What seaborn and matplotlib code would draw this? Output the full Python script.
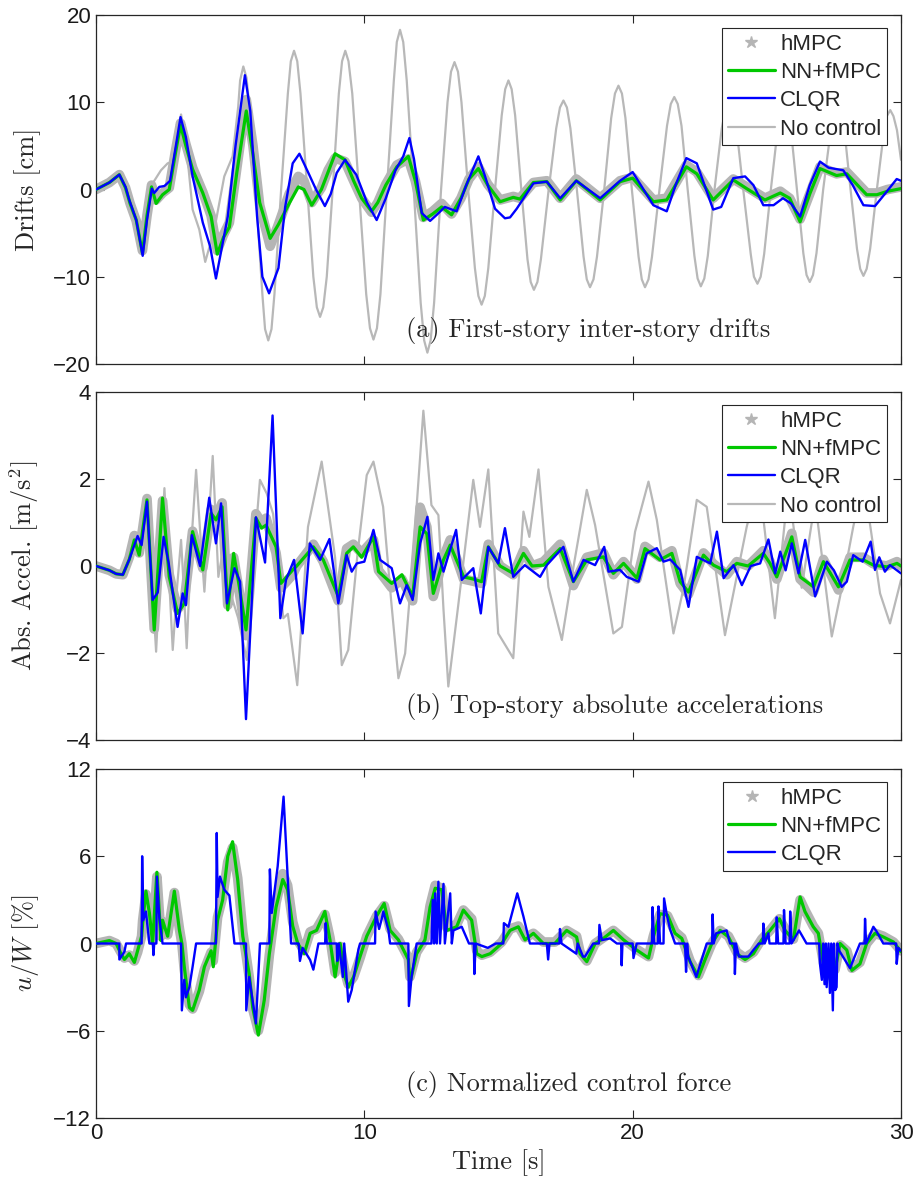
"""
Structural control comparison: drifts, accelerations and control force.
"""

import matplotlib
matplotlib.use('Agg')

import matplotlib.pyplot as plt
from matplotlib.lines import Line2D
import seaborn as sns

sns.set_style('ticks')
plt.rcParams['font.family'] = ['Liberation Sans', 'DejaVu Sans']
plt.rcParams['mathtext.fontset'] = 'cm'
plt.rcParams['axes.unicode_minus'] = True

# ---- (a) first-story inter-story drifts [cm] : (time, value) ----
a_nocontrol = [(0, 0), (0.5, 0.9), (0.87, 1.7), (1.24, -1.0), (1.74, -6.9), (2.05, 0.0), (2.11, 0.7),
               (2.42, 2.2), (2.67, 3.0), (2.86, 3.2), (3.17, 8.6), (3.35, 5.5), (3.6, -2.3), (3.85, -4.6),
               (4.07, -8.3), (4.41, -4.6), (4.78, 1.5), (5.09, 3.8), (5.3, 9.5), (5.37, 12.5), (5.49, 14.1),
               (5.61, 12.8), (5.7, 10.0), (5.95, 0.0), (6.2, -12.0), (6.3, -16.0), (6.42, -17.3),
               (6.54, -16.0), (6.65, -12.0), (6.9, 0.0), (7.15, 11.0), (7.26, 14.7), (7.38, 15.9),
               (7.5, 14.7), (7.62, 11.0), (7.87, 0.0), (8.1, -10.0), (8.23, -13.5), (8.35, -14.6),
               (8.47, -13.5), (8.6, -10.0), (8.82, 0.0), (9.05, 11.0), (9.17, 14.7), (9.29, 15.9),
               (9.41, 14.7), (9.55, 11.0), (9.8, 0.0), (10.07, -12.0), (10.21, -15.9), (10.34, -17.2),
               (10.47, -15.9), (10.6, -12.0), (10.84, 0.0), (11.1, 12.5), (11.21, 16.9), (11.33, 18.3),
               (11.45, 16.9), (11.58, 12.5), (11.84, 0.0), (12.1, -13.0), (12.23, -17.3), (12.35, -18.7),
               (12.47, -17.3), (12.6, -13.0), (12.86, 0.0), (13.1, 10.0), (13.23, 13.5), (13.36, 14.6),
               (13.49, 13.5), (13.62, 10.0), (13.87, 0.0), (14.12, -9.0), (14.25, -12.2), (14.37, -13.2),
               (14.49, -12.2), (14.62, -9.0), (14.87, 0.0), (15.12, 8.5), (15.25, 11.5), (15.37, 12.5),
               (15.49, 11.5), (15.62, 8.5), (15.85, 0.0), (16.08, -8.0), (16.2, -10.6), (16.32, -11.5),
               (16.45, -10.6), (16.58, -8.0), (16.87, 0.0), (17.15, 7.0), (17.29, 9.4), (17.42, 10.2),
               (17.55, 9.4), (17.68, 7.0), (17.92, 0.0), (18.17, -7.7), (18.29, -10.3), (18.41, -11.2),
               (18.54, -10.3), (18.67, -7.7), (18.94, 0.0), (19.2, 8.2), (19.34, 11.0), (19.47, 11.9),
               (19.6, 11.0), (19.73, 8.2), (19.97, 0.0), (20.22, -7.7), (20.34, -10.3), (20.46, -11.2),
               (20.59, -10.3), (20.72, -7.7), (21.0, 0.0), (21.28, 7.3), (21.42, 9.8), (21.55, 10.6),
               (21.68, 9.8), (21.82, 7.3), (22.05, 0.0), (22.3, -7.6), (22.42, -10.2), (22.54, -11.1),
               (22.67, -10.2), (22.8, -7.6), (23.05, 0.0), (23.32, 7.0), (23.46, 9.2), (23.6, 10.0),
               (23.73, 9.2), (23.87, 7.0), (24.12, 0.0), (24.4, -7.4), (24.52, -10.0), (24.65, -10.8),
               (24.77, -10.0), (24.9, -7.4), (25.15, 0.0), (25.4, 6.8), (25.52, 9.0), (25.65, 9.8),
               (25.77, 9.0), (25.9, 6.8), (26.12, 0.0), (26.36, -7.3), (26.48, -9.8), (26.6, -10.6),
               (26.72, -9.8), (26.85, -7.3), (27.1, 0.0), (27.37, 6.5), (27.5, 8.7), (27.63, 9.4),
               (27.76, 8.7), (27.9, 6.5), (28.12, 0.0), (28.36, -6.8), (28.48, -9.1), (28.6, -9.9),
               (28.72, -9.1), (28.85, -6.8), (29.1, 0.0), (29.35, 6.3), (29.47, 8.4), (29.6, 9.1),
               (29.72, 8.4), (29.85, 6.8), (30.0, 3.4)]

a_hmpc = [(0, 0), (0.5, 0.8), (0.87, 1.7), (1.1, 0.2), (1.27, -1.6), (1.5, -3.6), (1.73, -7.0), (1.9, -3.0),
          (2.07, 0.5), (2.24, -1.2), (2.48, -0.4), (2.73, 0.2), (2.95, 4.2), (3.15, 7.6), (3.35, 5.2),
          (3.6, 2.5), (3.98, -0.3), (4.29, -3.0), (4.52, -7.0), (4.75, -5.2), (4.97, -3.8), (5.25, 2.5),
          (5.6, 10.3), (5.85, 5.0), (6.1, -1.8), (6.49, -6.5), (6.8, -4.0), (7.2, -0.5), (7.54, 1.5),
          (7.75, 1.0), (8.04, -1.5), (8.4, 0.2), (8.65, 2.2), (8.91, 3.6), (9.28, 3.2), (9.6, 1.0),
          (9.9, -1.0), (10.27, -2.6), (10.5, -1.5), (10.8, 0.6), (11.21, 2.8), (11.64, 3.5), (11.9, 1.0),
          (12.2, -3.2), (12.55, -2.5), (12.88, -1.6), (13.25, -2.8), (13.6, -1.0), (13.9, 1.2),
          (14.25, 2.6), (14.6, 0.6), (15.06, -1.2), (15.55, -0.8), (15.8, -1.0), (16.3, 0.8), (16.8, 1.0),
          (17.3, -1.0), (17.9, 1.2), (18.79, -1.0), (19.53, 1.0), (20.0, 1.4), (20.77, -1.2),
          (21.27, -1.0), (22.0, 2.8), (22.39, 2.0), (23.0, -1.0), (23.75, 1.2), (24.25, 0.3),
          (24.93, -1.0), (25.5, -0.2), (25.85, -1.0), (26.24, -3.4), (26.6, -0.5), (26.98, 2.6),
          (27.6, 1.8), (27.98, 2.0), (28.72, -0.4), (29.1, -0.4), (29.5, 0.0), (30, 0.3)]

a_nnfmpc = [(0, 0), (0.5, 0.8), (0.87, 1.7), (1.1, 0.2), (1.27, -1.6), (1.5, -3.5), (1.73, -7.3), (1.9, -3.0),
            (2.07, 0.3), (2.24, -1.6), (2.48, -0.6), (2.73, 0.0), (2.95, 4.0), (3.15, 7.4), (3.35, 5.0),
            (3.6, 2.3), (3.98, -0.4), (4.29, -3.1), (4.52, -7.4), (4.75, -5.5), (4.97, -4.3), (5.25, 2.0),
            (5.6, 9.0), (5.85, 4.0), (6.1, -1.5), (6.49, -5.6), (6.8, -4.0), (7.2, -1.6), (7.54, 0.3),
            (7.75, 0.0), (8.04, -1.8), (8.4, 0.0), (8.65, 2.0), (8.91, 4.1), (9.28, 3.4), (9.6, 1.0),
            (9.9, -1.0), (10.27, -2.5), (10.5, -1.5), (10.8, 0.5), (11.21, 2.6), (11.64, 3.8), (11.9, 1.0),
            (12.2, -3.5), (12.55, -2.8), (12.88, -2.0), (13.25, -2.9), (13.6, -1.0), (13.9, 1.2),
            (14.25, 2.4), (14.6, 0.5), (15.06, -1.4), (15.55, -0.9), (15.8, -1.1), (16.3, 0.8), (16.8, 0.9),
            (17.3, -1.2), (17.9, 1.0), (18.79, -1.2), (19.53, 0.9), (20.0, 1.3), (20.77, -1.4),
            (21.27, -1.2), (22.0, 2.6), (22.39, 1.8), (23.0, -1.2), (23.75, 1.1), (24.25, 0.1),
            (24.93, -1.2), (25.5, -0.4), (25.85, -1.0), (26.24, -3.7), (26.6, -0.5), (26.98, 2.4),
            (27.6, 1.6), (27.98, 1.8), (28.72, -0.6), (29.1, -0.6), (29.5, -0.2), (30, 0.1)]

a_clqr = [(0, 0), (0.5, 0.8), (0.87, 1.7), (1.1, 0.3), (1.24, -1.2), (1.5, -3.5), (1.74, -7.6), (1.9, -3.5),
          (2.08, 0.1), (2.17, -0.4), (2.36, 0.3), (2.55, 0.4), (2.76, 1.0), (2.95, 4.5), (3.15, 8.3),
          (3.35, 6.0), (3.6, 1.5), (3.98, -3.8), (4.25, -6.5), (4.47, -10.2), (4.7, -6.5), (4.91, -3.1),
          (5.2, 5.0), (5.55, 13.1), (5.75, 9.0), (6.0, -3.0), (6.2, -10.0), (6.45, -11.9), (6.8, -9.0),
          (7.05, -2.0), (7.33, 3.0), (7.58, 4.1), (7.9, 2.0), (8.2, 0.0), (8.53, -1.9), (8.75, -0.5),
          (8.97, 1.9), (9.28, 3.4), (9.7, 1.7), (10.1, -1.5), (10.46, -3.5), (10.8, -1.0), (11.16, 2.2),
          (11.45, 3.8), (11.68, 5.9), (11.85, 3.5), (12.14, -2.7), (12.45, -3.6), (12.7, -2.9),
          (13.0, -2.0), (13.44, -2.5), (13.8, 0.5), (14.25, 3.8), (14.5, 1.5), (14.87, -2.2),
          (15.24, -3.3), (15.43, -3.2), (15.68, -2.2), (16.3, 0.7), (16.8, 0.9), (17.3, -1.0), (17.9, 1.0),
          (18.79, -1.0), (19.53, 1.0), (20.0, 2.0), (20.77, -1.8), (21.27, -2.5), (21.6, 0.5), (22.0, 3.6),
          (22.39, 3.0), (23.0, -2.3), (23.3, -2.0), (23.75, 1.3), (24.19, 1.5), (24.5, 0.5), (24.87, -1.8),
          (25.25, -1.8), (25.6, -1.0), (25.9, -1.6), (26.24, -3.1), (26.6, 0.5), (26.98, 3.2), (27.3, 2.5),
          (27.85, 2.2), (28.2, 0.5), (28.6, -1.8), (29.03, -1.9), (29.4, -0.5), (29.84, 1.2), (30, 1.0)]

# ---- (b) top-story absolute accelerations [m/s^2] ----
b_nocontrol = [(0, 0), (0.5, -0.1), (1.0, -0.2), (1.3, 0.2), (1.6, 0.6), (1.9, 1.5), (2.05, 0.0),
               (2.24, -1.97), (2.4, 0.0), (2.55, 1.79), (2.7, 0.0), (2.86, -1.93), (3.02, -0.5), (3.17, 0.6),
               (3.27, -0.5), (3.38, -1.89), (3.55, 0.5), (3.73, 2.21), (3.88, 0.8), (4.04, -0.59), (4.2, 1.0),
               (4.35, 2.53), (4.56, -0.25), (4.8, 0.6), (5.0, -0.6), (5.3, -1.2), (5.62, -2.16), (5.85, 0.0),
               (6.11, 1.98), (6.36, 1.67), (6.6, 1.2), (6.98, -1.2), (7.15, -1.1), (7.5, -2.74), (7.9, 0.9),
               (8.41, 2.4), (8.91, 0.2), (9.16, -2.28), (9.4, -1.93), (9.75, 0.3), (10.09, 2.09),
               (10.34, 2.4), (10.7, 1.36), (11.0, -0.8), (11.27, -2.58), (11.52, -2.01), (11.85, 0.5),
               (12.2, 3.57), (12.5, 1.4), (12.76, 1.17), (12.95, -1.0), (13.13, -2.77), (13.5, -0.9),
               (14.06, 1.98), (14.31, 0.9), (14.62, 2.22), (14.99, -1.55), (15.55, -2.12), (15.93, 1.25),
               (16.15, 0.67), (16.49, 2.22), (16.86, -0.48), (17.36, -1.7), (17.8, 0.0), (18.29, 1.75),
               (18.6, 0.94), (19.28, -1.55), (19.6, -1.4), (20.09, 0.79), (20.59, 1.94), (20.9, 1.06),
               (21.52, -1.55), (21.9, -0.5), (22.39, 1.52), (22.76, 1.36), (23.44, -1.59), (24.25, 0.9),
               (24.7, 2.0), (25.3, -1.2), (25.8, 1.8), (26.3, -0.5), (26.8, 1.5), (27.42, -1.62),
               (27.73, -0.7), (28.22, 0.9), (28.6, 2.0), (29.22, -0.63), (29.59, -1.32), (30, -0.32)]

b_hmpc = [(0, 0), (0.5, -0.1), (0.75, -0.18), (1.0, -0.2), (1.24, 0.2), (1.43, 0.7), (1.61, 0.3), (1.9, 1.55),
          (2.17, -1.45), (2.48, 1.5), (2.73, -0.2), (3.04, -1.0), (3.29, -0.8), (3.6, 0.8), (3.98, -0.05),
          (4.29, 1.3), (4.47, 1.1), (4.7, 1.45), (4.91, -0.9), (5.13, 0.2), (5.34, -0.6), (5.59, -1.6),
          (5.96, 1.2), (6.17, 1.0), (6.34, 1.1), (6.71, 0.3), (6.89, -0.5), (7.33, -0.2), (7.48, 0.0),
          (8.1, 0.5), (8.47, 0.1), (9.03, -0.8), (9.34, 0.4), (9.59, 0.5), (9.9, 0.3), (10.34, 0.6),
          (10.53, -0.1), (11.02, -0.5), (11.4, -0.3), (11.8, -0.8), (12.08, 1.35), (12.33, 0.9),
          (12.57, -0.7), (12.95, 0.2), (13.2, 0.6), (13.7, -0.3), (14.06, -0.35), (14.37, -0.4),
          (14.62, 0.5), (15.06, 0.0), (15.55, -0.2), (15.93, 0.35), (16.25, 0.0), (16.68, 0.1),
          (17.3, 0.5), (17.79, -0.45), (18.29, 0.2), (18.91, 0.3), (19.28, -0.2), (19.66, 0.1),
          (20.16, -0.3), (20.46, 0.45), (21.02, 0.2), (21.46, 0.35), (21.77, -0.4), (22.08, -0.65),
          (22.64, 0.3), (23.01, 0.05), (23.51, -0.2), (23.88, 0.1), (24.3, 0.0), (24.87, 0.35),
          (25.12, 0.1), (25.37, -0.3), (25.93, 0.75), (26.24, -0.3), (26.74, -0.6), (27.11, 0.15),
          (27.67, -0.55), (28.1, 0.2), (28.6, 0.2), (28.97, 0.05), (29.47, 0.0), (29.85, 0.1), (30, 0.0)]

b_nnfmpc = [(0, 0), (0.5, -0.1), (0.75, -0.18), (1.0, -0.2), (1.24, 0.15), (1.43, 0.6), (1.61, 0.25),
            (1.9, 1.52), (2.17, -1.47), (2.48, 1.56), (2.73, -0.25), (3.04, -1.09), (3.29, -0.86),
            (3.6, 0.79), (3.98, -0.09), (4.29, 1.21), (4.47, 1.06), (4.7, 1.36), (4.91, -1.01),
            (5.13, 0.29), (5.34, -0.47), (5.59, -1.47), (5.96, 1.1), (6.17, 0.87), (6.34, 0.94),
            (6.71, 0.44), (6.89, -0.4), (7.33, -0.09), (7.48, 0.0), (8.1, 0.44), (8.47, 0.14),
            (9.03, -0.7), (9.34, 0.29), (9.59, 0.44), (9.9, 0.2), (10.34, 0.67), (10.53, -0.13),
            (11.02, -0.4), (11.4, -0.2), (11.8, -0.7), (12.08, 0.9), (12.33, 0.74), (12.57, -0.63),
            (12.95, 0.14), (13.2, 0.48), (13.7, -0.25), (14.06, -0.3), (14.37, -0.36), (14.62, 0.44),
            (15.06, 0.0), (15.55, -0.17), (15.93, 0.29), (16.25, 0.0), (16.68, 0.02), (17.3, 0.4),
            (17.79, -0.36), (18.29, 0.14), (18.91, 0.21), (19.28, -0.17), (19.66, 0.06), (20.16, -0.28),
            (20.46, 0.4), (21.02, 0.14), (21.46, 0.29), (21.77, -0.36), (22.08, -0.6), (22.64, 0.25),
            (23.01, 0.02), (23.51, -0.13), (23.88, 0.06), (24.3, 0.0), (24.87, 0.29), (25.12, 0.06),
            (25.37, -0.25), (25.93, 0.67), (26.24, -0.25), (26.74, -0.48), (27.11, 0.1), (27.67, -0.48),
            (28.1, 0.14), (28.6, 0.14), (28.97, 0.02), (29.47, -0.02), (29.85, 0.06), (30, 0.0)]

b_clqr = [(0, 0), (0.5, -0.1), (0.75, -0.18), (1.0, -0.2), (1.24, 0.15), (1.55, 0.69), (1.7, 0.48), (1.9, 1.48),
          (2.11, -0.78), (2.3, -0.61), (2.52, 0.67), (2.71, 0.06), (3.04, -1.4), (3.23, -0.63), (3.35, -0.9),
          (3.57, 0.71), (3.88, 0.0), (4.22, 1.57), (4.47, 0.52), (4.66, 1.44), (4.88, -0.86), (5.16, -0.05),
          (5.37, -0.36), (5.59, -3.52), (5.96, 1.12), (6.3, 0.08), (6.58, 3.46), (6.87, -1.2), (7.08, -0.32),
          (7.38, 0.14), (7.7, -1.55), (7.97, 0.52), (8.35, 0.14), (8.7, 0.62), (9.03, -0.86), (9.34, 0.25),
          (9.53, -0.13), (9.72, 0.06), (10.0, 0.1), (10.34, 0.83), (10.59, 0.14), (11.02, -0.05),
          (11.33, -0.86), (11.58, -0.44), (11.8, -0.78), (12.08, 0.52), (12.35, 1.13), (12.57, -0.32),
          (12.76, 0.29), (12.95, -0.13), (13.42, 0.83), (13.63, -0.32), (14.06, -0.05), (14.34, -1.09),
          (14.62, 0.44), (14.99, 0.06), (15.24, 0.87), (15.55, -0.25), (15.98, 0.02), (16.55, -0.25),
          (16.8, 0.02), (17.42, 0.44), (17.79, -0.36), (18.17, 0.14), (18.6, 0.02), (18.94, 0.44),
          (19.1, -0.13), (19.53, -0.09), (19.78, -0.25), (20.22, -0.36), (20.52, 0.29), (20.9, 0.41),
          (21.15, 0.1), (21.4, 0.15), (21.77, -0.09), (22.08, -0.94), (22.39, 0.21), (22.89, 0.06),
          (23.14, 0.79), (23.39, -0.28), (23.76, 0.02), (24.07, -0.44), (24.4, 0.0), (24.75, 0.06),
          (25.06, 0.61), (25.31, -0.17), (25.5, 0.33), (25.7, -0.1), (25.93, 0.52), (26.18, -0.17),
          (26.43, 0.6), (26.8, -0.7), (27.24, 0.1), (27.5, -0.1), (27.79, -0.48), (27.98, -0.36),
          (28.22, 0.25), (28.57, 0.1), (28.87, 0.56), (29.03, -0.09), (29.19, 0.2), (29.4, -0.13),
          (29.59, 0.02), (30, -0.17)]

# ---- (c) normalized control force u/W [%] ----
c_hmpc = [(0, 0), (0.5, 0.2), (0.75, 0), (0.93, -0.6), (1.06, -1.0), (1.24, -0.8), (1.43, -1.2), (1.55, -0.6),
          (1.7, 0.5), (1.74, 1.6), (1.86, 3.4), (1.99, 2.0), (2.11, 0.2), (2.27, 4.6), (2.42, 0.5), (2.48, 1.5),
          (2.67, 0.6), (2.92, 3.5), (3.11, 1.0), (3.2, 0), (3.29, -1.8), (3.48, -4.2), (3.6, -4.5),
          (3.85, -3.3), (4.04, -1.8), (4.29, -0.6), (4.37, -1.2), (4.53, 1.8), (4.72, 3.2), (4.91, 5.6),
          (5.09, 6.6), (5.28, 4.5), (5.47, 0.8), (5.71, -2.3), (5.84, -4.5), (6.05, -6.0), (6.27, -4.2),
          (6.46, -0.8), (6.71, 2.8), (6.96, 4.8), (7.14, 4.0), (7.33, 1.5), (7.52, 0.2), (7.76, -0.5),
          (7.98, 0.8), (8.22, 1.0), (8.53, 2.0), (8.72, 0.4), (8.91, -2.0), (9.1, -0.2), (9.28, -2.0),
          (9.4, -2.8), (9.6, -2.3), (9.84, -1.0), (10.09, 0.5), (10.46, 1.9), (10.74, 2.6), (10.96, 1.0),
          (11.27, 0.3), (11.64, -1.0), (11.7, -2.3), (11.95, -0.6), (12.26, 0.3), (12.45, 2.6),
          (12.64, 4.0), (12.88, 3.8), (13.07, 1.1), (13.44, 1.3), (13.69, 2.3), (14.0, 1.7), (14.19, -0.5),
          (14.38, -0.8), (14.69, -0.6), (15.12, 0.1), (15.43, 1.0), (15.74, 1.2), (15.99, 0.4),
          (16.3, 0.7), (16.67, 0.1), (17.1, 0.1), (17.54, 0.9), (17.91, 0.5), (18.04, -0.6),
          (18.29, -1.2), (18.6, 0), (18.91, 0.4), (19.28, 0.9), (19.66, 0.3), (20.15, -0.4),
          (20.59, -0.9), (20.77, 0.5), (21.02, 2.0), (21.3, 1.9), (21.58, 0.8), (21.83, 0.4),
          (22.14, -1.2), (22.45, -2.2), (22.7, -1.1), (22.95, 0), (23.26, 0.9), (23.57, 0.5),
          (23.88, -0.6), (24.19, -1.0), (24.5, -0.6), (24.81, 0.3), (25.12, 0.9), (25.47, 1.7),
          (25.68, 1.0), (25.99, 0.3), (26.24, 3.0), (26.42, 2.3), (26.73, 1.2), (26.92, 0.7),
          (27.11, -1.3), (27.29, -2.2), (27.54, -1.8), (27.73, -0.1), (27.98, -0.5), (28.17, -1.7),
          (28.47, -1.3), (28.72, 0), (29.03, 0.7), (29.34, 0.5), (29.72, 0.1), (30, -0.5)]

c_nnfmpc = [(0, 0), (0.5, 0.2), (0.75, 0), (0.93, -0.7), (1.06, -1.1), (1.24, -0.7), (1.43, -1.3), (1.55, -0.5),
            (1.7, 0.5), (1.74, 1.4), (1.86, 3.6), (1.99, 2.1), (2.11, 0), (2.27, 4.9), (2.42, 0.2), (2.48, 1.6),
            (2.67, 0.5), (2.92, 3.6), (3.11, 0.9), (3.2, 0), (3.29, -1.6), (3.48, -4.4), (3.6, -4.6),
            (3.85, -3.2), (4.04, -1.6), (4.29, -0.5), (4.37, -1.6), (4.53, 1.6), (4.72, 3.0), (4.91, 6.0),
            (5.09, 7.0), (5.28, 4.4), (5.47, 0.5), (5.71, -2.1), (5.84, -4.4), (6.05, -6.3), (6.27, -3.9),
            (6.46, -0.7), (6.71, 2.5), (6.96, 4.4), (7.14, 3.7), (7.33, 1.2), (7.52, 0), (7.76, -0.7),
            (7.98, 0.7), (8.22, 0.9), (8.53, 2.2), (8.72, 0.25), (8.91, -2.3), (9.1, 0), (9.28, -2.3),
            (9.4, -3.0), (9.6, -2.3), (9.84, -0.9), (10.09, 0.5), (10.46, 1.9), (10.74, 2.75), (10.96, 0.9),
            (11.27, 0.25), (11.64, -1.1), (11.7, -2.7), (11.95, -0.7), (12.26, 0.25), (12.45, 2.5),
            (12.64, 3.8), (12.88, 3.7), (13.07, 0.9), (13.44, 1.15), (13.69, 2.3), (14.0, 1.6),
            (14.19, -0.7), (14.38, -0.9), (14.69, -0.7), (15.12, 0), (15.43, 0.9), (15.74, 1.15),
            (15.99, 0.25), (16.3, 0.7), (16.67, 0), (17.1, 0), (17.54, 0.9), (17.91, 0.45), (18.04, -0.7),
            (18.29, -1.25), (18.6, 0), (18.91, 0.35), (19.28, 0.9), (19.66, 0.25), (20.15, -0.45),
            (20.59, -1.0), (20.77, 0.45), (21.02, 2.05), (21.3, 1.95), (21.58, 0.7), (21.83, 0.35),
            (22.14, -1.25), (22.45, -2.3), (22.7, -1.1), (22.95, 0), (23.26, 0.9), (23.57, 0.45),
            (23.88, -0.7), (24.19, -1.1), (24.5, -0.7), (24.81, 0.25), (25.12, 0.9), (25.47, 1.7),
            (25.68, 0.9), (25.99, 0.25), (26.24, 3.2), (26.42, 2.2), (26.73, 1.15), (26.92, 0.7),
            (27.11, -1.4), (27.29, -2.3), (27.54, -1.85), (27.73, 0), (27.98, -0.45), (28.17, -1.85),
            (28.47, -1.4), (28.72, 0), (29.03, 0.7), (29.34, 0.45), (29.72, 0.1), (30, -0.56)]

c_clqr = [(0, 0), (0.87, 0), (0.87, -1.1), (1.06, -0.56), (1.12, 0), (1.70, 0), (1.72, 6.0), (1.76, 1.6),
          (1.86, 2.2), (1.99, 0), (2.12, 0), (2.14, -0.8), (2.17, 0), (2.25, 0), (2.27, 4.6), (2.36, 1.8),
          (2.48, 0), (3.17, 0), (3.2, -4.6), (3.29, -2.5), (3.35, -3.7), (3.48, -3.0), (3.6, -1.6),
          (3.73, 0), (4.47, 0), (4.5, 7.6), (4.53, 3.2), (4.62, 4.6), (4.78, 3.7), (4.97, 3.3), (5.16, 0),
          (5.59, 0), (5.6, -4.6), (5.71, -2.3), (5.96, -5.5), (6.11, 0), (6.46, 0), (6.48, 5.1), (6.55, 2.1),
          (6.77, 5.3), (6.99, 10.1), (7.27, 0), (7.55, 0), (7.6, -1.2), (7.7, -0.3), (7.98, -1.13),
          (8.1, -1.8), (8.29, 0), (8.54, 0), (8.56, 1.4), (8.6, 0), (8.97, 0), (8.99, -1.2), (9.05, 0),
          (9.2, -2.3), (9.25, 0), (9.4, -4.0), (9.53, -3.2), (9.78, -0.4), (9.84, 0), (10.4, 0),
          (10.42, 2.2), (10.55, 1.0), (10.65, 1.7), (10.71, 2.2), (10.9, 0.9), (10.96, 0), (11.64, 0),
          (11.66, -4.3), (11.76, -2.3), (11.95, 0), (12.5, 0), (12.55, 3.0), (12.6, 0), (12.64, 3.45),
          (12.7, 0), (12.76, 4.25), (12.82, 0), (12.95, 4.1), (13.0, 0), (13.2, 3.45), (13.26, 0),
          (13.32, 0.9), (13.63, 1.15), (13.9, 0), (14.08, 0), (14.1, -2.1), (14.15, 0), (14.6, -0.3),
          (14.9, 0), (15.18, 0), (15.2, 1.4), (15.37, 1.15), (15.7, 3.45), (15.93, 1.85), (16.17, 0),
          (16.8, 0), (16.85, -1.1), (16.9, 0), (17.27, 0), (17.29, 1.0), (17.35, 0), (17.9, -0.7),
          (17.95, 0), (18.15, -0.9), (18.22, -0.9), (18.53, 0), (18.74, 0), (18.76, 1.28), (18.85, 0.23),
          (19.16, 0.35), (19.41, 0), (19.57, 0), (19.59, -1.5), (19.62, 0), (20.0, 0), (20.03, -1.0),
          (20.15, 0), (20.72, 0), (20.74, 2.5), (20.8, 0), (20.94, 0), (20.96, 2.55), (21.02, 0),
          (21.15, 0), (21.17, 3.1), (21.27, 2.0), (21.39, 1.0), (21.58, 0), (21.95, 0), (21.99, -1.95),
          (22.03, 0), (22.07, -0.9), (22.37, -2.3), (22.76, 0), (22.96, 0), (22.98, 2.0), (23.02, 0),
          (23.11, 0.7), (23.5, 0.9), (23.63, 0), (23.79, 0), (23.81, -2.1), (23.85, 0), (23.96, -0.9),
          (24.31, -0.9), (24.5, -0.45), (24.7, 0), (24.85, 0), (24.87, 1.37), (24.92, 0), (25.06, 0.7),
          (25.1, 0), (25.35, 0), (25.37, 1.8), (25.42, 0), (25.62, 0), (25.64, 2.3), (25.7, 0), (25.85, 0),
          (25.87, 2.2), (25.92, 0), (26.2, 0.9), (26.48, 0), (26.95, 0), (26.98, -1.4), (27.05, -2.5),
          (27.1, 0), (27.15, -2.8), (27.2, 0), (27.23, -3.0), (27.3, 0), (27.35, -3.4), (27.4, 0),
          (27.46, -4.6), (27.5, 0), (27.55, -3.2), (27.6, -3.0), (27.63, 0), (27.7, -0.5), (28.1, -1.7),
          (28.47, 0), (28.64, 0), (28.66, 1.7), (28.7, 0), (28.97, 1.15), (29.1, 0.8), (29.34, 0),
          (29.82, 0), (29.84, -1.4), (29.9, -0.3), (30, -0.5)]

series_labels = ['hMPC', 'NN+fMPC', 'CLQR', 'No control']
panel_titles = ['(a) First-story inter-story drifts',
                '(b) Top-story absolute accelerations',
                '(c) Normalized control force']
ylabels = ['Drifts [cm]', r'Abs. Accel. [m/s$^2$]', r'$u/W$ [%]']
ylims = [(-20, 20), (-4, 4), (-12, 12)]
yticks = [[-20, -10, 0, 10, 20], [-4, -2, 0, 2, 4], [-12, -6, 0, 6, 12]]
xticks = [0, 10, 20, 30]

C_HMPC = '#b5b5b5'
C_NN = '#00c800'
C_CLQR = '#0000ff'
C_NOCTRL = '#b8b8b8'
SPINE = '#262626'
SERIF = 'cmr10'


def draw(ax, pairs, **kw):
    t, v = zip(*pairs)
    sns.lineplot(x=list(t), y=list(v), ax=ax, estimator=None, sort=False, legend=False, **kw)


def main():
    fig = plt.figure(figsize=(9.18, 11.95), dpi=100)
    W, H = 918, 1195
    boxes = [(15, 364), (392, 740), (769, 1118)]
    panels = [
        (a_hmpc, a_nnfmpc, a_clqr, a_nocontrol),
        (b_hmpc, b_nnfmpc, b_clqr, b_nocontrol),
        (c_hmpc, c_nnfmpc, c_clqr, None),
    ]

    for i, ((top, bot), (hm, nn, cl, nc)) in enumerate(zip(boxes, panels)):
        ax = fig.add_axes([96 / W, 1 - bot / H, (901 - 96) / W, (bot - top) / H])

        if nc is not None:
            draw(ax, nc, color=C_NOCTRL, linewidth=1.6, zorder=1)
        draw(ax, hm, color=C_HMPC, linewidth=7, zorder=2)
        draw(ax, nn, color=C_NN, linewidth=2.3, zorder=3)
        draw(ax, cl, color=C_CLQR, linewidth=1.7, zorder=4)

        ax.set_xlim(0, 30)
        ax.set_ylim(*ylims[i])
        ax.set_xticks(xticks)
        ax.set_yticks(yticks[i])
        ax.tick_params(direction='in', length=6, width=0.8, top=True, right=True,
                       labelsize=16, color=SPINE, labelcolor='#1a1a1a')
        if i < 2:
            ax.set_xticklabels([])
        for s in ax.spines.values():
            s.set_color(SPINE)
            s.set_linewidth(0.9)

        ax.set_ylabel(ylabels[i], family=SERIF, fontsize=19)
        ax.yaxis.set_label_coords(-0.068, 0.5)
        ax.text(0.385, 0.095, panel_titles[i], transform=ax.transAxes,
                family=SERIF, fontsize=19, ha='left', va='center')

        handles = [
            Line2D([], [], ls='none', marker='*', ms=9, color=C_HMPC),
            Line2D([], [], color=C_NN, lw=2.3),
            Line2D([], [], color=C_CLQR, lw=1.7),
            Line2D([], [], color=C_NOCTRL, lw=1.6),
        ]
        n = 4 if nc is not None else 3
        leg = ax.legend(handles[:n], series_labels[:n], loc='upper right',
                        bbox_to_anchor=(1 - 14 / 805, 1 - 13 / 349), borderaxespad=0,
                        fontsize=16, handlelength=2.1, handletextpad=0.25, borderpad=0.25,
                        labelspacing=0.33, fancybox=False, framealpha=1, edgecolor=SPINE)
        leg.get_frame().set_linewidth(0.8)

        if i == 2:
            ax.set_xlabel('Time [s]', family=SERIF, fontsize=19)

    fig.savefig('out.png', dpi=100)
    plt.close(fig)


if __name__ == '__main__':
    main()
